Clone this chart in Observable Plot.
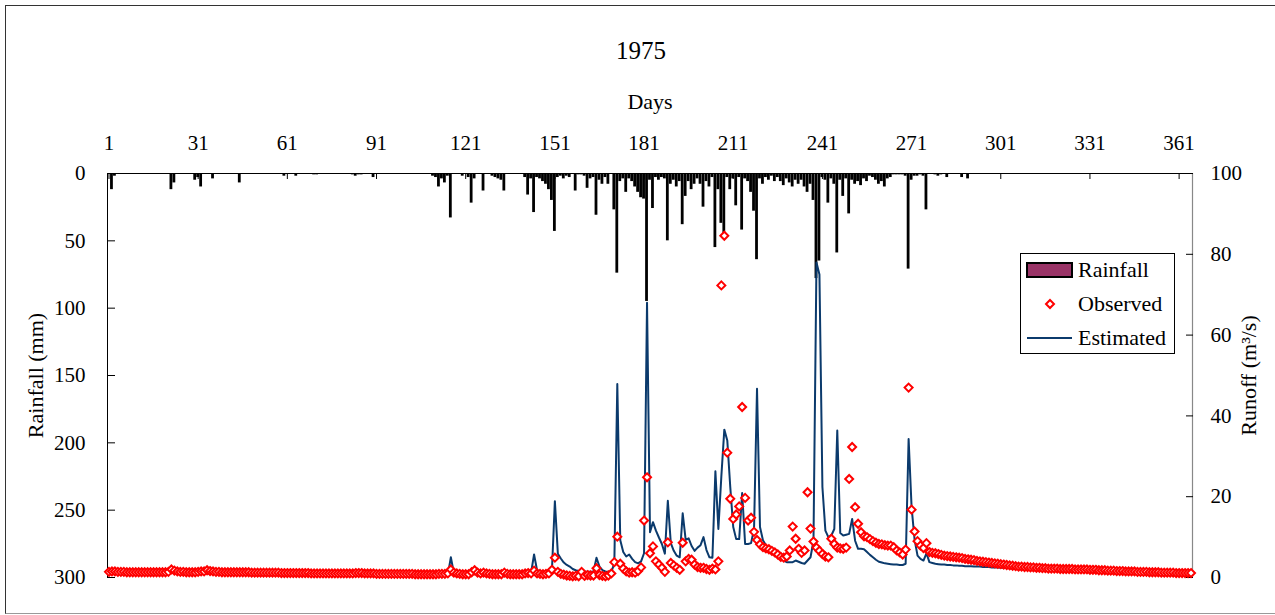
<!DOCTYPE html>
<html><head><meta charset="utf-8">
<script src="https://cdn.jsdelivr.net/npm/d3@7"></script>
<script src="https://cdn.jsdelivr.net/npm/@observablehq/plot@0.6"></script>
<style>
body{margin:0;background:#fff;}
#wrap{position:relative;width:1275px;height:615px;overflow:hidden;font-family:"Liberation Serif","Times New Roman",serif;background:#fff;}
#wrap > svg{position:absolute;left:0;top:0;}
#wrap svg text{font-family:"Liberation Serif","Times New Roman",serif;}
#border{position:absolute;left:5px;top:5px;width:1275px;height:609px;border-left:1px solid #333;border-top:1px solid #333;border-bottom:1px solid #999;box-sizing:border-box;}
</style>
</head><body>
<div id="wrap"><div id="border"></div></div>
<script>
// ---- data ----
const title = "1975";
const dayTicks = [1,31,61,91,121,151,181,211,241,271,301,331,361];
const rainTicks = [0,50,100,150,200,250,300];
const runoffTicks = [0,20,40,60,80,100];

const rainDays = [2,3,22,23,30,31,32,36,45,60,64,70,71,83,84,85,86,90,
110,111,112,113,114,115,116,120,122,123,124,127,
130,131,132,133,134,141,142,143,144,145,146,147,148,149,150,151,
152,153,154,155,156,158,159,160,161,162,163,164,165,166,167,168,169,171,172,
173,174,175,176,177,178,179,180,181,182,183,184,185,186,187,188,189,190,191,192,193,194,195,196,197,198,199,200,
201,202,203,204,205,206,207,208,209,210,211,212,213,214,215,216,217,218,219,
220,221,222,223,224,225,226,227,228,229,230,231,232,233,234,235,236,237,238,239,240,
241,242,243,244,245,246,247,248,249,250,251,252,253,254,255,256,257,258,259,260,
261,262,263,264,265,266,267,268,269,270,271,272,273,274,275,276,279,280,281,283,288,290];
const rainMM = [12,2,12,7,5,3,10,4,7,2,2,1,1,1,2,1,1,3,
2,3,10,4,7,2,33,2,3,22,4,13,
2,3,4,5,13,3,16,4,29,3,4,6,8,12,20,43,
3,2,4,2,3,13,1,1,2,11,4,3,31,5,8,3,8,27,74,
6,4,14,4,6,10,14,18,19,95,5,26,3,5,3,4,50,8,5,10,6,38,17,6,12,8,4,8,
25,6,10,3,55,12,37,45,3,12,4,24,3,42,4,6,14,28,64,
4,8,3,5,2,6,3,6,9,4,7,10,5,8,5,10,14,8,20,78,65,
3,5,22,4,8,59,5,17,4,30,5,8,6,9,4,6,2,3,5,8,
6,10,4,3,1,1,1,1,2,71,5,2,2,1,2,27,1,2,1,3,3,4];

const observed = [
1.4,1.5,1.5,1.4,1.4,1.4,1.3,1.3,1.3,1.3,
1.3,1.3,1.3,1.3,1.3,1.3,1.3,1.3,1.3,1.3,
1.4,2.0,1.7,1.5,1.4,1.4,1.3,1.3,1.3,1.3,
1.4,1.5,1.5,1.8,1.6,1.5,1.4,1.4,1.3,1.3,
1.3,1.3,1.3,1.3,1.3,1.3,1.3,1.3,1.2,1.2,
1.2,1.2,1.2,1.2,1.2,1.2,1.2,1.2,1.1,1.1,
1.1,1.1,1.1,1.1,1.1,1.1,1.1,1.1,1.0,1.0,
1.0,1.0,1.0,1.0,1.0,1.0,1.0,1.0,1.0,1.0,
1.0,1.0,1.0,1.1,1.1,1.1,1.0,1.0,1.0,1.0,
0.9,0.9,0.9,0.9,0.9,0.9,0.9,0.9,0.9,0.9,
0.9,0.9,0.9,0.8,0.8,0.8,0.8,0.8,0.8,0.8,
0.8,0.9,0.9,0.9,1.0,2.0,1.2,1.0,0.9,0.8,
0.8,0.8,1.3,1.8,1.2,1.0,1.2,1.0,0.9,0.8,
0.8,0.8,0.8,1.2,0.9,0.8,0.8,0.8,0.8,0.8,
1.0,1.1,1.0,1.7,1.0,0.9,0.8,0.9,1.0,1.9,
4.9,1.4,0.9,0.7,0.5,0.4,0.3,0.4,0.3,1.4,
0.4,0.6,0.5,0.5,2.3,0.6,0.4,0.3,0.5,1.0,
3.8,10.1,3.4,2.2,1.5,1.2,1.3,1.2,1.6,2.5,
14.1,24.8,6.0,7.7,4.0,3.2,2.4,1.4,8.7,3.6,
3.0,2.4,1.9,8.6,4.0,4.6,4.4,3.2,2.6,2.4,
2.4,2.1,1.9,2.2,2.0,4.0,72.3,84.6,30.9,19.5,
14.5,15.6,17.6,42.2,19.7,14.1,14.8,11.3,9.3,8.2,
7.5,7.2,7.0,6.6,6.2,5.7,5.1,4.9,5.2,6.7,
12.6,9.6,7.1,6.1,6.7,21.1,12.1,8.9,7.4,6.6,
5.8,5.2,5.0,9.6,8.3,7.4,7.2,7.1,7.4,24.4,
32.3,17.4,13.3,11.2,10.2,10.0,9.5,9.0,8.6,8.3,
8.2,8.0,7.9,7.9,7.5,6.7,6.2,5.7,6.9,47.0,
16.8,11.4,9.0,7.9,7.3,8.5,6.3,6.1,6.0,5.8,
5.6,5.4,5.3,5.2,5.1,5.0,4.9,4.8,4.6,4.5,
4.4,4.3,4.1,4.0,3.9,3.8,3.7,3.6,3.5,3.4,
3.3,3.2,3.1,3.0,2.9,2.8,2.7,2.7,2.6,2.6,
2.5,2.5,2.4,2.4,2.3,2.3,2.2,2.2,2.2,2.2,
2.1,2.1,2.1,2.1,2.1,2.0,2.0,2.0,2.0,2.0,
1.9,1.9,1.9,1.8,1.8,1.8,1.7,1.7,1.7,1.6,
1.6,1.6,1.5,1.5,1.5,1.5,1.4,1.4,1.4,1.4,
1.3,1.3,1.3,1.3,1.2,1.2,1.2,1.2,1.2,1.1,
1.1,1.1,1.1,1.1,1.1];

const estimated = [
1.0,1.0,1.0,1.0,1.0,1.0,0.9,0.9,0.9,0.9,
0.9,0.9,0.9,0.9,0.9,0.9,0.9,0.9,0.9,0.9,
0.9,1.2,1.1,1.0,0.9,0.9,0.9,0.9,0.9,0.9,
1.0,1.2,1.1,1.0,0.9,0.9,0.9,0.9,0.9,0.8,
0.8,0.8,0.8,0.8,0.8,0.8,0.8,0.8,0.8,0.8,
0.8,0.8,0.8,0.8,0.8,0.8,0.8,0.8,0.8,0.8,
0.7,0.7,0.7,0.7,0.7,0.7,0.7,0.7,0.7,0.7,
0.7,0.7,0.7,0.7,0.7,0.7,0.7,0.7,0.7,0.7,
0.7,0.7,0.7,0.7,0.7,0.7,0.7,0.7,0.7,0.7,
0.6,0.6,0.6,0.6,0.6,0.6,0.6,0.6,0.6,0.6,
0.6,0.6,0.6,0.6,0.6,0.6,0.6,0.6,0.6,0.6,
0.6,0.8,0.8,0.7,0.7,5.0,1.2,0.8,0.7,0.6,
0.6,0.6,1.5,0.9,0.7,0.6,0.9,0.7,0.6,0.6,
0.6,0.6,0.7,1.2,0.8,0.7,0.6,0.6,0.6,0.6,
0.8,1.2,1.2,5.7,1.8,1.4,1.2,1.1,1.1,1.6,
18.9,5.9,4.7,3.7,3.1,2.7,2.1,1.8,1.6,1.5,
1.4,1.4,1.4,1.5,4.9,2.7,1.8,1.5,1.4,1.4,
3.5,47.9,9.2,6.3,5.2,5.7,4.6,3.8,3.5,4.0,
6.0,68.0,11.2,13.7,11.6,9.9,8.3,5.9,19.0,8.5,
6.6,5.4,5.0,15.9,9.3,9.7,7.8,6.6,7.4,8.0,
10.0,6.8,5.0,4.9,26.3,12.0,25.0,36.6,33.9,22.4,
12.5,9.5,9.5,20.9,8.3,8.3,8.5,12.0,46.7,12.5,
9.2,8.0,6.7,6.0,5.4,5.0,4.6,4.2,3.8,3.8,
3.8,4.2,3.9,3.6,3.4,4.2,5.0,9.1,78.0,75.0,
22.4,11.6,10.0,10.4,12.0,36.4,11.0,10.4,10.6,10.8,
14.5,9.1,7.1,7.1,7.0,6.3,5.6,5.0,4.4,3.9,
3.7,3.5,3.4,3.3,3.2,3.2,3.1,3.1,3.4,34.3,
17.4,9.4,5.4,4.6,4.2,6.0,3.8,3.6,3.4,3.3,
3.2,3.2,3.1,3.1,3.0,3.0,2.9,2.9,2.8,2.8,
2.8,2.7,2.7,2.7,2.6,2.6,2.6,2.5,2.5,2.5,
2.4,2.4,2.4,2.3,2.3,2.3,2.2,2.2,2.2,2.1,
2.1,2.1,2.0,2.0,2.0,2.0,1.9,1.9,1.9,1.9,
1.8,1.8,1.8,1.8,1.7,1.7,1.7,1.7,1.6,1.6,
1.6,1.6,1.5,1.5,1.5,1.5,1.4,1.4,1.4,1.4,
1.3,1.3,1.3,1.3,1.3,1.2,1.2,1.2,1.2,1.2,
1.1,1.1,1.1,1.1,1.1,1.0,1.0,1.0,1.0,1.0,
1.0,1.0,1.0,1.0,1.0];

// ---- tables ----
const rain = rainDays.map((d,i)=>({day:d, mm:rainMM[i]}));
const runoff = observed.map((o,i)=>({day:i+1, obs:o, est:estimated[i]}));

const W=1275, H=615;
const M = {marginTop:173, marginRight:83, marginBottom:38, marginLeft:107};
const FONT = '"Liberation Serif","Times New Roman",serif';
const xDom = [0.5, 365.5];

const rainPlot = Plot.plot({
  width:W, height:H, ...M,
  style:{fontFamily:FONT, fontSize:"21px", color:"#000", background:"transparent", overflow:"visible"},
  x:{domain:xDom},
  y:{domain:[0,300], reverse:true},
  marks:[
    Plot.rect(rain, {x1:d=>d.day-0.47, x2:d=>d.day+0.47, y1:d=>0, y2:"mm", fill:"#000"}),
    Plot.ruleY([0], {stroke:"#000", strokeWidth:1}),
    Plot.ruleX([xDom[0]], {stroke:"#000", strokeWidth:1}),
    Plot.axisY({anchor:"left", ticks:rainTicks, tickSize:0, tickPadding:22, label:null, fontSize:21, fontFamily:FONT}),
    Plot.axisY({anchor:"left", ticks:rainTicks, tickSize:-8, fill:"none", label:null}),
    Plot.axisX({anchor:"top", ticks:dayTicks, tickSize:0, tickPadding:24, label:null, fontSize:21, fontFamily:FONT}),
    Plot.axisX({anchor:"top", ticks:dayTicks, tickSize:-5, fill:"none", label:null}),
    Plot.text([title], {frameAnchor:"top", dy:-123, dx:-9, lineAnchor:"middle", fontSize:25, fontFamily:FONT}),
    Plot.text(["Days"], {frameAnchor:"top", dy:-72, lineAnchor:"middle", fontSize:22, fontFamily:FONT}),
    Plot.text(["Rainfall (mm)"], {frameAnchor:"left", dx:-72, rotate:-90, textAnchor:"middle", lineAnchor:"middle", fontSize:22, fontFamily:FONT})
  ]
});

const runoffPlot = Plot.plot({
  width:W, height:H, ...M,
  style:{fontFamily:FONT, fontSize:"21px", color:"#000", background:"transparent", overflow:"visible"},
  x:{domain:xDom, axis:null},
  y:{domain:[0,100]},
  marks:[
    Plot.ruleX([xDom[1]], {stroke:"#888", strokeWidth:1.2}),
    Plot.axisY({anchor:"right", ticks:runoffTicks, tickSize:0, tickPadding:18, label:null, fontSize:21, fontFamily:FONT}),
    Plot.axisY({anchor:"right", ticks:runoffTicks, tickSize:-7, fill:"none", label:null}),
    Plot.line(runoff, {x:"day", y:"est", stroke:"#0b3a6c", strokeWidth:2}),
    Plot.dot(runoff, {x:"day", y:"obs", symbol:"diamond2", r:3.6, stroke:"#ff0000", strokeWidth:2, fill:"#fff"}),
    Plot.text(["Runoff (m³/s)"], {frameAnchor:"right", dx:56, rotate:-90, textAnchor:"middle", lineAnchor:"middle", fontSize:22, fontFamily:FONT})
  ]
});

const wrap = document.getElementById("wrap");
wrap.appendChild(rainPlot);
wrap.appendChild(runoffPlot);

// legend
const ns = "http://www.w3.org/2000/svg";
const lg = document.createElementNS(ns, "svg");
lg.setAttribute("width", W); lg.setAttribute("height", H);
lg.style.fontFamily = FONT;
lg.innerHTML = `
  <rect x="1020.5" y="253.5" width="154" height="100" fill="#fff" stroke="#000" stroke-width="1"/>
  <rect x="1027" y="263" width="45" height="14" fill="#993366" stroke="#000" stroke-width="2"/>
  <text x="1078" y="277" font-size="22">Rainfall</text>
  <path d="M1050,300 L1054,304 L1050,308 L1046,304 Z" fill="#fff" stroke="#ff0000" stroke-width="2"/>
  <text x="1078" y="311" font-size="22">Observed</text>
  <line x1="1027" x2="1072" y1="338" y2="338" stroke="#0b3a6c" stroke-width="2"/>
  <text x="1078" y="345" font-size="22">Estimated</text>`;
wrap.appendChild(lg);
</script>
</body></html>
